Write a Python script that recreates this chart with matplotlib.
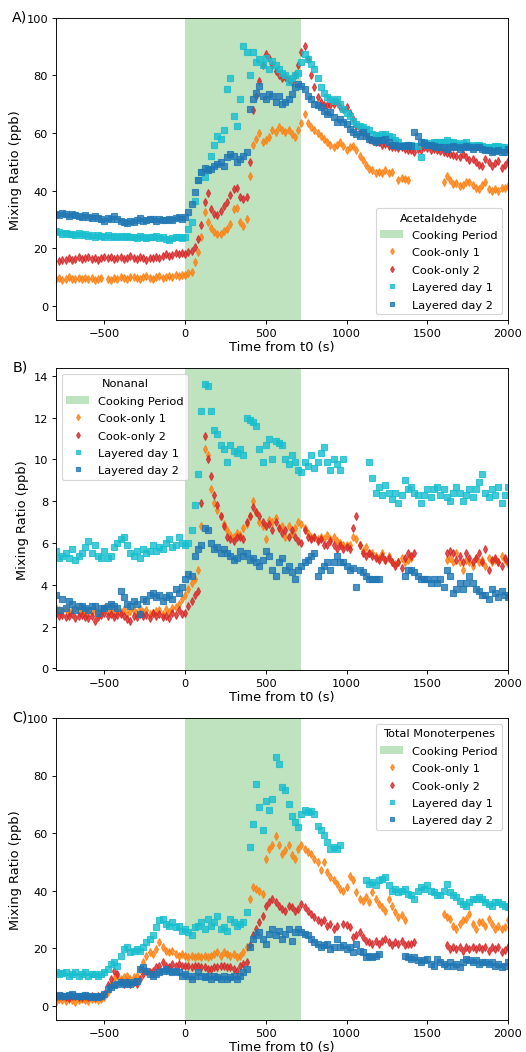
import numpy as np
import matplotlib
matplotlib.use("Agg")
import matplotlib.pyplot as plt

nan = np.nan

# time grid (s from t0), 20 s steps from -800 to 2000
t0_start, t_step = -800, 20
cook_start, cook_end = 0, 720

series_labels = ["Cook-only 1", "Cook-only 2", "Layered day 1", "Layered day 2"]
series_colors = ["#ff7f0e", "#d62728", "#17becf", "#1f77b4"]
series_markers = ["d", "d", "s", "s"]

# --- A) Acetaldehyde (ppb) ---
co1_a = [
    9.2, 9.5, 9.0, 9.4, 9.8, 9.3, 9.1, 9.6, 9.4, 9.7,
    9.3, 9.5, 9.0, 9.4, 9.6, nan, 9.2, 8.9, 9.6, 9.3,
    9.8, 9.5, 9.2, 9.9, 10.1, 9.6, 9.3, 9.8, 10.2, 9.7,
    9.4, 9.9, 10.2, 9.6, 10.0, 10.4, 10.1, 10.6, 10.3, 10.8,
    10.5, 11.2, 11.6, 15.0, 18.5, 24.0, 32.5, 29.0, 27.0, 25.5,
    25.0, 24.8, 25.8, 26.7, 28.5, 33.5, 34.0, 29.0, 27.8, 30.0,
    45.0, 56.0, 58.0, 60.0, 57.0, 57.4, 58.5, 61.0, 60.5, 62.0,
    61.0, 60.5, 61.0, 59.5, 58.5, 61.0, 63.5, 66.5, 63.5, 62.0,
    61.0, 60.0, 59.0, 58.0, 56.8, 56.0, 55.0, 56.0, 56.8, 55.5,
    54.0, 55.0, 55.6, 54.0, 52.0, 50.5, 49.0, 47.5, 47.0, 46.0,
    46.4, 46.0, 47.0, 46.0, 46.6, nan, 43.5, 44.5, 44.0, 43.5,
    nan, nan, nan, nan, nan, nan, nan, nan, nan, nan,
    43.0, 45.0, 43.5, 42.3, 42.5, 41.7, 42.0, 42.8, 43.0, 42.0,
    41.0, 40.6, 42.0, 42.8, 40.5, 40.0, 40.5, 40.0, 40.8, 41.0,
    41.5]
co2_a = [
    nan, 15.5, 16.0, 15.7, 16.5, 15.8, 16.3, 16.8, 16.2, 16.6,
    16.9, 16.3, 16.7, 16.0, 16.5, 17.0, 16.4, 16.8, 16.1, 16.6,
    16.9, 16.2, 16.6, 17.1, 16.5, 16.2, 16.8, 16.4, 16.0, 16.7,
    16.5, 17.0, 16.6, 17.3, 17.8, 17.2, 17.6, 18.2, 17.8, 18.3,
    18.0, 18.5, 19.0, 20.3, 23.0, 28.0, 36.0, 39.0, 33.6, 32.0,
    31.5, 33.0, 34.5, 36.0, 38.5, 40.5, 41.0, 37.7, 37.0, 37.7,
    50.0, 68.0, 73.0, 78.0, 83.5, 87.5, 86.0, 83.5, 81.7, 80.0,
    79.0, 79.5, 78.5, 77.7, 80.0, 83.5, 88.0, 90.4, 85.8, 80.0,
    76.0, 72.5, 70.7, 69.6, 69.8, 69.6, 70.2, 70.7, 69.0, 68.4,
    69.0, 67.0, 65.0, 62.6, 61.5, 60.3, 59.5, 58.0, 57.5, 57.0,
    56.8, 56.0, 56.2, 55.6, 55.0, 55.0, 54.8, 55.0, 54.5, 54.2,
    54.0, 53.5, 54.5, 54.0, 55.0, 54.8, 54.2, 54.5, 54.0, 53.8,
    53.3, 53.0, 52.8, 52.5, 52.0, 51.5, 52.8, 51.8, 50.5, 51.0,
    50.0, 49.0, 48.7, 51.0, 50.0, 48.7, 49.5, 50.4, 48.0, 49.0,
    50.4]
l1_a = [
    26.0, 25.5, 25.0, 25.3, 24.8, 25.0, 24.6, 25.2, 24.5, 24.8,
    24.3, 24.6, 24.0, 24.5, 24.3, 24.0, 24.4, 23.9, 24.2, 23.8,
    24.1, 23.7, 24.3, 23.8, 24.0, 23.5, 24.2, 23.9, 23.6, 24.0,
    23.8, 24.1, 23.5, 23.8, 23.2, 22.8, 23.6, 24.0, 23.8, 23.5,
    23.8, 26.7, 29.0, 36.5, 43.5, 46.4, 44.6, 47.5, 52.0, 56.0,
    59.0, 58.0, 61.0, 75.4, 79.0, 66.0, 62.6, 72.0, 90.4, 88.0,
    80.0, 88.0, 84.6, 85.8, 83.5, 86.0, 82.3, 85.0, 83.5, 82.3,
    81.0, 80.0, 77.7, 79.0, 80.0, 81.0, 84.6, 87.5, 85.8, 84.0,
    82.3, 79.0, 76.0, 74.0, 72.5, 72.0, 71.3, 72.0, 70.0, 68.4,
    67.0, 66.0, 64.3, 63.0, 62.6, 62.0, 61.4, 61.0, 59.7, 59.3,
    59.0, 59.5, 59.7, 59.0, 58.5, 57.5, 56.8, 56.0, 55.6, 55.8,
    56.0, 55.5, 55.5, 51.5, 57.0, 56.0, 56.5, 56.8, 57.0, 56.8,
    57.0, 57.4, 57.0, 56.8, 56.5, 56.0, 56.4, 56.8, 56.0, 55.6,
    55.8, 56.0, 55.5, 55.0, 55.2, 55.0, 55.4, 55.6, 55.0, 55.0,
    54.0]
l2_a = [
    32.0, 31.5, 32.3, 31.8, 31.0, 32.0, 31.5, 31.2, 30.8, 31.5,
    30.7, 30.5, 31.2, 30.3, 30.0, 29.5, 30.4, 30.0, 31.0, 30.2,
    29.5, 29.0, 28.6, 29.3, 29.0, 29.8, 30.3, 29.5, 29.8, 30.0,
    30.0, 29.5, 30.2, 29.6, 29.8, 30.0, 29.7, 30.3, 30.8, 30.2,
    30.7, 32.5, 35.4, 39.4, 43.5, 46.4, 48.0, 47.0, 47.5, 48.7,
    49.3, 50.0, 48.7, 51.6, 52.8, 52.0, 50.0, 51.0, 52.0, 53.3,
    68.4, 72.0, 74.0, 76.5, 73.0, 72.0, 73.6, 73.0, 70.7, 73.0,
    70.0, 70.7, 72.0, 73.6, 76.0, 77.0, 76.5, 75.4, 73.0, 72.0,
    70.0, 69.6, 69.0, 67.8, 66.7, 67.2, 65.5, 63.8, 65.0, 63.8,
    63.2, 61.4, 60.3, 59.7, 59.0, 60.3, 59.0, 58.0, 57.4, 56.8,
    57.4, 57.6, 58.0, 57.0, 56.0, 55.8, 55.6, 55.4, 55.6, 55.8,
    55.6, 60.3, 59.0, 56.8, 56.5, 56.0, 55.8, 55.6, 55.3, 55.0,
    55.0, 54.5, 55.0, 55.6, 55.0, 54.5, 55.0, 55.6, 55.0, 54.5,
    55.0, 55.0, 54.5, 54.0, 54.0, 53.3, 53.8, 54.0, 53.5, 53.3,
    54.5]

# --- B) Nonanal (ppb) ---
co1_b = [
    2.9, 2.8, 2.75, 2.85, 2.7, 2.8, 2.9, 2.7, 2.75, 2.65,
    2.65, 2.7, 2.8, 2.6, 2.75, 2.9, 2.7, 2.8, 2.65, 2.75,
    2.7, 2.85, 2.6, 2.75, 2.8, 2.65, 2.9, 2.7, 2.8, 2.6,
    2.65, 2.75, 2.8, 2.6, 2.85, 2.7, 2.9, 2.95, 3.1, 3.3,
    3.5, 3.8, 4.1, 4.3, 4.7, 6.8, 10.5, 10.2, 8.6, 7.9,
    7.6, 7.3, 6.9, 6.6, 6.4, 6.3, 6.5, 6.4, 6.7, 6.9,
    7.3, 8.0, 7.5, 7.0, 6.8, 6.2, 7.1, 7.0, 7.2, 6.7,
    6.8, 6.3, 6.8, 6.5, 6.7, 7.0, 6.9, 6.7, 6.5, 6.3,
    6.3, 6.2, 6.3, 6.2, 6.4, 6.2, 6.3, 6.1, 6.0, 5.9,
    5.9, 5.9, 6.3, 6.2, 5.9, 5.6, 5.8, 5.5, 5.5, 5.4,
    5.3, 5.5, 5.2, 5.4, 5.1, 5.0, 5.1, 5.3, 5.1, 5.2,
    5.3, nan, nan, nan, nan, nan, nan, nan, nan, nan,
    nan, 5.2, 5.3, 5.1, 5.5, 5.1, 4.7, 5.2, 5.1, 4.9,
    5.3, 5.1, 5.2, 4.9, 5.3, 5.1, 5.2, 5.1, 5.4, 5.2,
    5.0]
co2_b = [
    2.65, 2.5, 2.55, 2.45, 2.5, 2.6, 2.4, 2.5, 2.55, 2.45,
    2.4, 2.5, 2.25, 2.45, 2.55, 2.65, 2.5, 2.6, 2.45, 2.55,
    2.6, 2.5, 2.35, 2.25, 2.5, 2.45, 2.6, 2.5, 2.55, 2.4,
    2.65, 2.5, 2.6, 2.45, 2.5, 2.4, 2.65, 2.55, 2.8, 2.6,
    2.65, 3.0, 3.2, 3.5, 3.7, 7.9, 11.1, 10.0, 9.2, 8.3,
    7.8, 7.3, 6.8, 6.3, 6.2, 6.1, 6.3, 6.3, 6.2, 7.0,
    7.3, 7.7, 7.5, 7.3, 7.0, 6.8, 6.9, 6.6, 7.0, 6.7,
    6.5, 6.6, 6.3, 6.6, 6.3, 6.1, 6.0, 6.6, 6.3, 6.2,
    6.3, 6.1, 6.2, 5.9, 5.9, 6.1, 5.9, 5.7, 5.9, 5.7,
    5.8, 5.7, 6.7, 7.3, 5.9, 5.5, 5.4, 5.5, 5.4, 5.3,
    5.2, 5.4, 5.2, 5.3, 5.1, 4.9, 5.1, 4.8, 5.3, 5.5,
    5.4, 5.5, nan, nan, nan, nan, nan, nan, nan, nan,
    nan, 5.5, 5.6, 5.5, 5.2, 5.4, 5.1, 5.5, 5.3, 5.1,
    5.3, 5.5, 5.1, 5.7, 4.7, 5.2, 5.3, 5.1, 4.9, 5.3,
    5.1]
l1_b = [
    5.6, 5.3, 5.4, 5.5, 5.3, 5.7, 5.2, 5.4, 5.5, 5.8,
    6.1, 5.5, 5.9, 5.4, 5.3, 5.6, 5.3, 5.4, 5.8, 6.0,
    6.2, 6.3, 5.9, 5.5, 5.4, 5.6, 5.3, 5.7, 5.5, 5.6,
    5.9, 5.6, 5.8, 5.7, 6.0, 6.2, 5.8, 5.9, 6.3, 6.0,
    5.9, 6.0, 6.6, 7.8, 9.3, 12.3, 13.6, 13.5, 12.3, 11.4,
    11.2, 10.7, 10.5, 9.9, 10.7, 10.4, 10.3, 10.5, 10.2, 12.0,
    11.9, 11.8, 11.6, 10.5, 9.9, 10.7, 11.0, 10.0, 10.9, 10.8,
    10.7, 10.0, 9.8, 10.2, 9.9, 9.5, 9.4, 9.9, 9.7, 10.2,
    9.6, 9.9, 10.3, 10.6, 9.9, 9.5, 10.0, 9.8, 9.5, 10.0,
    nan, nan, nan, nan, nan, nan, nan, 9.9, 9.1, 8.4,
    8.7, 8.3, 8.8, 8.4, 8.1, 8.4, 7.9, 8.3, 9.0, 8.6,
    8.7, 8.4, 8.3, 7.9, 8.3, 8.6, 8.2, 8.6, 8.7, 8.3,
    8.6, 8.2, 8.0, 8.4, 8.7, 8.4, 8.0, 8.3, 8.6, 8.2,
    8.6, 8.9, 9.3, 8.4, 8.2, 8.6, 8.3, 8.7, 7.9, 8.3,
    8.7]
l2_b = [
    3.5, 2.8, 3.3, 2.9, 3.2, 3.1, 2.8, 3.0, 3.0, 2.9,
    2.8, 3.0, 3.0, 2.65, 2.9, 2.9, 3.0, 3.1, 3.0, 2.9,
    3.7, 3.4, 3.1, 3.0, 3.2, 3.1, 2.6, 3.3, 3.2, 3.5,
    3.6, 3.4, 3.5, 3.2, 3.4, 3.5, 3.3, 3.8, 3.6, 3.9,
    4.3, 4.5, 4.4, 5.4, 5.7, 5.9, 6.7, 6.6, 6.0, 5.7,
    5.8, 5.5, 5.7, 5.5, 5.4, 5.2, 5.3, 5.6, 5.4, 5.5,
    5.2, 5.3, 5.1, 4.9, 5.2, 5.6, 5.4, 4.7, 4.4, 5.1,
    5.3, 4.7, 4.9, 4.6, 4.3, 4.7, 4.9, 5.1, 5.2, 5.4,
    5.5, 4.4, 4.7, 4.9, 5.1, 4.7, 5.1, 5.4, 5.1, 5.1,
    4.9, 4.7, 4.8, 3.9, 4.7, 4.6, 4.4, 4.3, 4.3, 4.3,
    4.3, nan, nan, nan, nan, nan, nan, nan, 4.4, 4.7,
    4.7, 4.6, 4.4, 4.3, 4.3, 4.3, 4.1, 4.3, 4.1, 4.3,
    3.9, 4.7, 4.4, 3.6, 3.8, 4.1, 3.8, 4.1, 4.4, 4.1,
    3.8, 3.7, 3.5, 3.5, 3.3, 3.8, 3.6, 3.4, 3.7, 3.5,
    3.4]

# --- C) Total Monoterpenes (ppb) ---
co1_c = [
    1.2, 2.3, 2.0, 1.7, 2.3, 1.8, 1.2, 2.0, 2.3, 1.9,
    1.7, 2.2, 2.3, 2.0, 2.4, 2.9, 4.6, 7.0, 9.3, 10.4,
    9.3, 9.9, 10.4, 9.3, 9.9, 10.4, 12.8, 15.0, 17.4, 18.6,
    18.0, 19.7, 22.0, 20.3, 19.0, 18.6, 19.0, 18.0, 17.4, 18.0,
    17.4, 16.8, 17.4, 16.8, 17.4, 16.8, 17.4, 16.8, 17.4, 18.0,
    18.6, 17.4, 18.6, 18.0, 17.4, 18.0, 16.8, 17.4, 18.6, 20.3,
    37.0, 41.2, 40.6, 40.0, 38.9, 51.0, 54.5, 55.7, 59.0, 55.7,
    52.8, 54.0, 55.7, 52.2, 51.0, 54.5, 55.7, 54.5, 53.4, 52.8,
    51.0, 50.0, 47.0, 50.0, 46.4, 44.7, 43.5, 42.3, 40.6, 40.0,
    41.2, 45.2, 43.5, 39.4, 37.1, 36.5, 37.7, 36.0, 39.4, 37.1,
    35.4, 34.2, 33.0, 37.1, 34.8, 32.5, 30.7, 31.5, 29.6, nan,
    nan, nan, nan, nan, nan, nan, nan, nan, nan, nan,
    31.9, 30.7, 30.2, 27.8, 26.7, 28.4, 29.6, 30.2, 31.9, 28.4,
    26.7, 29.0, 29.0, 27.8, 30.2, 28.4, 26.7, 27.8, 26.7, 27.5,
    29.6]
co2_c = [
    2.9, 3.3, 3.5, 3.0, 2.8, 3.5, 3.2, 2.9, 3.1, 3.4,
    2.9, 3.2, 3.0, 3.5, 3.3, 4.0, 7.0, 9.3, 12.2, 11.0,
    8.1, 7.5, 8.1, 7.5, 8.1, 7.5, 9.3, 11.0, 12.2, 11.6,
    12.2, 13.3, 13.9, 15.0, 13.9, 13.3, 14.5, 13.9, 14.5, 13.9,
    13.9, 13.6, 13.3, 13.9, 13.9, 13.3, 13.3, 12.8, 12.8, 13.3,
    13.3, 13.9, 13.9, 13.3, 13.3, 12.8, 12.2, 13.9, 14.5, 15.0,
    20.9, 24.4, 26.7, 29.0, 31.3, 34.8, 36.0, 37.1, 36.0, 34.8,
    33.6, 33.0, 34.8, 34.2, 33.0, 33.6, 35.4, 34.2, 33.0, 31.9,
    30.7, 29.6, 29.0, 29.6, 27.8, 28.4, 26.7, 27.8, nan, 28.5,
    28.0, 27.3, 23.8, 24.5, 25.5, 24.0, 22.6, 22.0, 21.5, 22.5,
    21.5, 22.5, 23.2, 22.0, 20.9, 22.0, 21.5, 22.5, 20.9, 21.5,
    21.5, 22.0, nan, nan, nan, nan, nan, nan, nan, nan,
    nan, 20.9, 19.7, 20.3, 19.7, 20.3, 19.0, 20.3, 19.7, 20.3,
    19.7, 20.3, 19.7, 20.3, 19.0, 20.3, 19.7, 20.3, 18.6, 19.5,
    20.3]
l1_c = [
    11.6, 11.0, 11.3, 11.6, 10.4, 11.0, 11.6, 10.4, 11.0, 11.6,
    10.4, 11.0, 11.0, 10.4, 11.0, 11.6, 12.8, 14.5, 15.0, 13.9,
    17.4, 19.7, 20.3, 18.6, 19.0, 19.7, 19.0, 20.3, 22.0, 23.2,
    24.4, 27.3, 29.6, 30.2, 28.4, 27.8, 29.0, 27.3, 27.8, 26.1,
    26.7, 25.5, 24.4, 27.3, 27.8, 29.0, 26.7, 30.2, 27.8, 29.0,
    31.3, 26.7, 27.3, 26.1, 30.2, 29.0, 27.8, 28.4, 29.0, 32.5,
    55.0, 63.0, 77.0, 69.0, 61.0, 71.0, 68.0, 72.0, 86.5, 84.0,
    76.0, 74.8, 70.0, 66.0, 63.8, 62.0, 66.7, 68.0, 67.3, 67.8,
    66.7, 62.5, 60.9, 59.2, 57.0, 54.5, 55.1, 54.5, 55.7, nan,
    nan, nan, nan, nan, nan, nan, 43.5, 42.3, 42.9, 41.8,
    43.5, 44.0, 44.7, 41.8, 40.0, 40.6, 39.4, 40.0, 40.6, 38.9,
    38.3, 37.1, 40.0, 41.2, 40.6, 41.8, 40.0, 39.4, 38.3, 38.3,
    40.0, 42.3, 39.4, 38.3, 37.7, 36.5, 35.4, 34.8, 36.0, 37.1,
    37.1, 37.7, 37.1, 36.0, 35.4, 34.8, 36.0, 36.0, 35.4, 34.8,
    34.2]
l2_c = [
    3.5, 3.7, 3.2, 3.5, 3.8, 4.0, 3.2, 3.5, 3.3, 3.6,
    3.5, 3.1, 3.4, 3.1, 3.5, 4.0, 5.8, 6.4, 7.0, 7.5,
    8.1, 7.5, 8.1, 7.5, 8.1, 8.7, 12.8, 13.3, 12.2, 11.0,
    10.4, 11.0, 11.6, 12.2, 12.8, 12.2, 11.6, 12.2, 11.6, 10.4,
    11.0, 10.4, 9.3, 10.4, 11.6, 10.4, 9.9, 10.4, 9.3, 10.4,
    9.9, 9.3, 10.4, 9.3, 9.9, 10.4, 9.3, 10.4, 11.6, 12.8,
    20.3, 23.2, 24.4, 25.5, 23.2, 21.5, 24.9, 26.7, 24.4, 26.1,
    23.2, 24.9, 26.7, 22.6, 25.5, 26.7, 25.5, 24.9, 24.4, 23.2,
    22.0, 21.5, 20.3, 20.9, 21.5, 19.7, 20.3, 23.2, 20.3, 20.9,
    19.7, 20.3, 18.6, 21.5, 19.1, 18.6, 16.8, 17.4, 16.8, 17.4,
    18.0, nan, nan, nan, nan, nan, nan, nan, 17.4, 16.8,
    16.2, 16.8, 15.7, 15.1, 15.7, 16.2, 14.5, 13.9, 16.2, 15.1,
    14.5, 13.9, 15.1, 13.9, 14.5, 13.3, 15.1, 16.2, 15.7, 15.1,
    15.7, 14.5, 15.1, 15.1, 14.5, 15.1, 13.9, 14.5, 13.3, 13.9,
    15.1]

panels = [
    ("A)", "Acetaldehyde", [co1_a, co2_a, l1_a, l2_a], (-5, 100), "lower right"),
    ("B)", "Nonanal", [co1_b, co2_b, l1_b, l2_b], (-0.08, 14.38), "upper left"),
    ("C)", "Total Monoterpenes", [co1_c, co2_c, l1_c, l2_c], (-5, 100), "upper right"),
]

fig, axes = plt.subplots(3, 1, figsize=(6.4, 12.81), dpi=82.2)
fig.subplots_adjust(left=0.1065, right=0.9658, top=0.982, bottom=0.0304, hspace=0.159)

for ax, (tag, compound, data, ylim, loc) in zip(axes, panels):
    ax.axvspan(cook_start, cook_end, color="#2ca02c", alpha=0.3, lw=0, label="Cooking Period")
    for vals, lab, col, mk in zip(data, series_labels, series_colors, series_markers):
        t = t0_start + t_step * np.arange(len(vals))
        ax.plot(t, vals, mk, color=col, ms=4.5, alpha=0.8, label=lab)
    ax.set_xlim(-800, 2000)
    ax.set_ylim(*ylim)
    ax.set_xlabel("Time from t0 (s)", fontsize=11.4, labelpad=2)
    ax.set_ylabel("Mixing Ratio (ppb)", fontsize=11.4)
    ax.legend(title=compound, loc=loc, labelspacing=0.65, markerscale=0.85)
    ax.text(-0.097, 0.99, tag, transform=ax.transAxes, fontsize=12.5, ha="left", va="baseline")

fig.savefig("out.png", dpi=82.2)
